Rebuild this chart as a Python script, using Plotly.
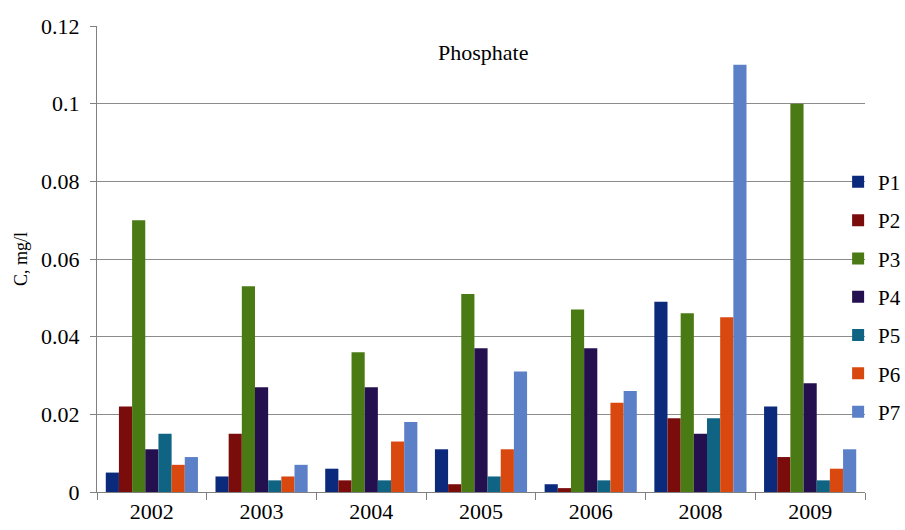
import plotly.graph_objects as go

years = ["2002", "2003", "2004", "2005", "2006", "2008", "2009"]
series_names = ["P1", "P2", "P3", "P4", "P5", "P6", "P7"]
P1 = [0.005, 0.004, 0.006, 0.011, 0.002, 0.049, 0.022]
P2 = [0.022, 0.015, 0.003, 0.002, 0.001, 0.019, 0.009]
P3 = [0.070, 0.053, 0.036, 0.051, 0.047, 0.046, 0.100]
P4 = [0.011, 0.027, 0.027, 0.037, 0.037, 0.015, 0.028]
P5 = [0.015, 0.003, 0.003, 0.004, 0.003, 0.019, 0.003]
P6 = [0.007, 0.004, 0.013, 0.011, 0.023, 0.045, 0.006]
P7 = [0.009, 0.007, 0.018, 0.031, 0.026, 0.110, 0.011]
values = [P1, P2, P3, P4, P5, P6, P7]
colors = ["#0b2a7c", "#7a0c0c", "#4a7a14", "#24104f", "#0f6484", "#d9480f", "#5b80c8"]

FONT = "Times New Roman, Liberation Serif, DejaVu Serif, serif"

fig = go.Figure()
for name, vals, col in zip(series_names, values, colors):
    fig.add_trace(go.Bar(name=name, x=years, y=vals, marker=dict(color=col, line=dict(width=0)),
                         legendgroup=name))

fig.update_layout(
    width=905, height=530,
    margin=dict(l=97, r=40, t=26, b=38, autoexpand=False),
    plot_bgcolor="white", paper_bgcolor="white",
    barmode="group", bargap=0.16, bargroupgap=0,
    font=dict(family=FONT, size=22, color="black"),
    legend=dict(x=0.965, xanchor="left", y=0.418, yanchor="middle",
                bgcolor="rgba(0,0,0,0)", tracegroupgap=8,
                font=dict(family=FONT, size=21)),
    annotations=[dict(text="Phosphate", xref="paper", yref="paper", x=0.502, y=0.944,
                      xanchor="center", yanchor="middle",
                      showarrow=False, font=dict(family=FONT, size=22))],
)
fig.update_xaxes(type="category", showline=True, linecolor="#808080", linewidth=1,
                 ticks="outside", tickson="boundaries", ticklen=7, tickcolor="#808080",
                 showgrid=False)
fig.update_yaxes(range=[0, 0.12], dtick=0.02, showline=True, linecolor="#808080", linewidth=1,
                 ticks="outside", ticklen=6, tickcolor="#808080", ticklabelstandoff=6,
                 showgrid=True, gridcolor="#8c8c8c", gridwidth=1, zeroline=False,
                 title=dict(text="C, mg/l", font=dict(family=FONT, size=18), standoff=8))

fig.write_html("out.html", config={"displayModeBar": False},
               post_script="document.body.style.margin='0';document.body.style.padding='0';")
